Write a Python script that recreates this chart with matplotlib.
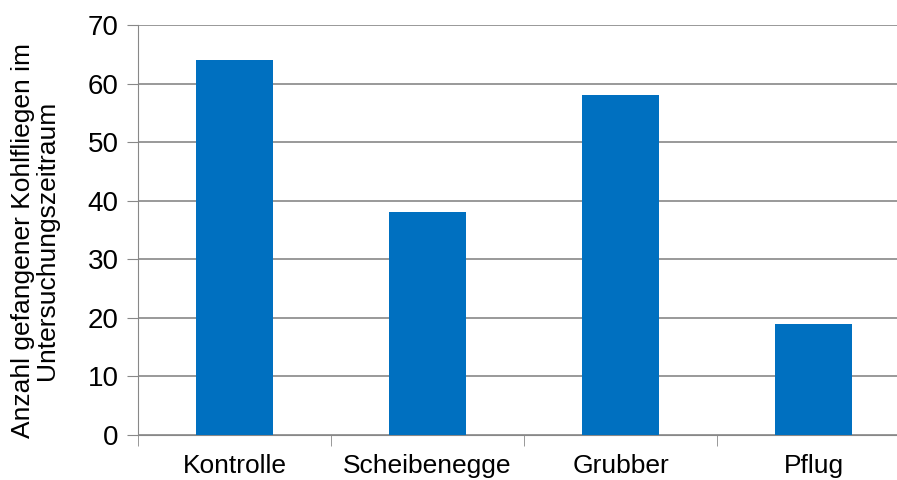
import matplotlib.pyplot as plt

# data
categories = ["Kontrolle", "Scheibenegge", "Grubber", "Pflug"]
counts = [64, 38, 58, 19]
yticks = [0, 10, 20, 30, 40, 50, 60, 70]

plt.rcParams["font.family"] = ["Liberation Sans", "DejaVu Sans"]

fig = plt.figure(figsize=(8.97, 4.8), dpi=100)
# plot area runs a bit past the right edge, like the original
ax = fig.add_axes([138 / 897, 45 / 480, 772 / 897, 410 / 480])

x = list(range(len(categories)))
ax.bar(x, counts, width=0.4, color="#0070C0", zorder=3)

ax.set_xlim(-0.5, len(categories) - 0.5)
ax.set_ylim(0, 70)
ax.set_yticks(yticks)
ax.set_xticks(x)
ax.set_xticklabels(categories, fontsize=19)
ax.tick_params(axis="y", labelsize=20, length=8, color="#888888", pad=6)
ax.tick_params(axis="x", length=0, pad=14)
# minor ticks at category boundaries
ax.set_xticks([i + 0.5 for i in x[:-1]] + [-0.5], minor=True)
ax.tick_params(axis="x", which="minor", length=8, color="#888888")

ax.grid(axis="y", color="#888888", linewidth=1.2, zorder=0)
for s in ["top", "right"]:
    ax.spines[s].set_visible(False)
ax.spines["left"].set_color("#888888")
ax.spines["bottom"].set_color("#888888")

# y label placed by hand
fig.text(35 / 897, 240 / 480, "Anzahl gefangener Kohlfliegen im\nUntersuchungszeitraum",
         fontsize=19, rotation=90, ha="center", va="center",
         multialignment="center", linespacing=1.0)

fig.savefig("out.png", dpi=100)
